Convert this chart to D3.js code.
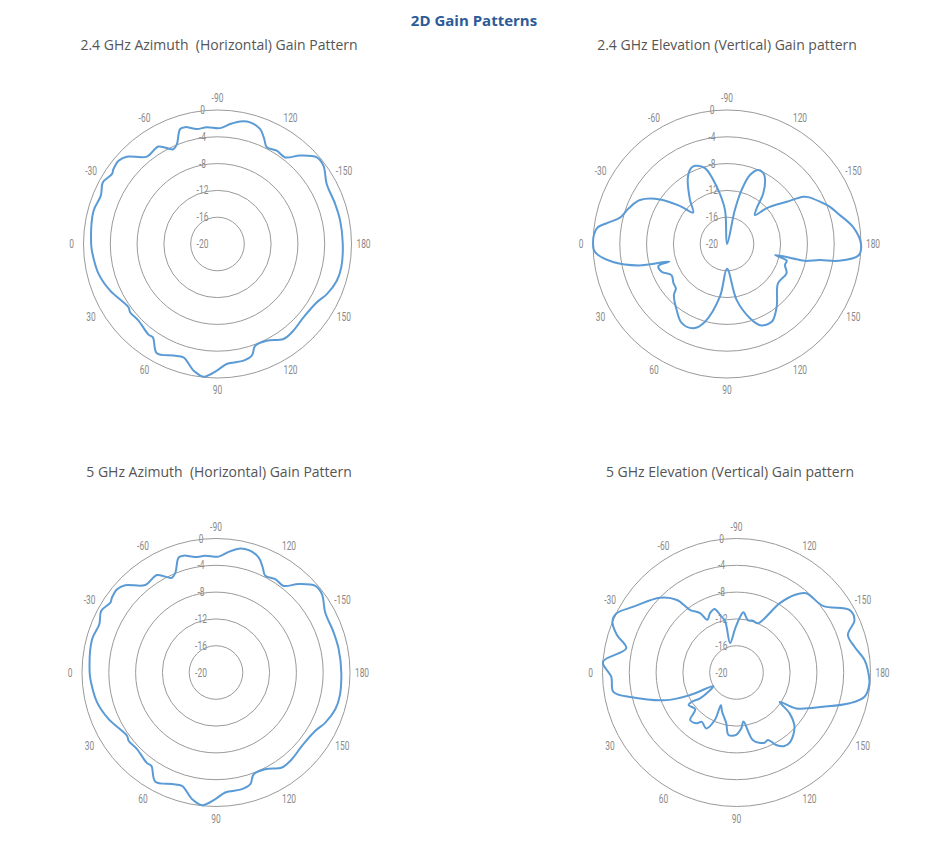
<!DOCTYPE html>
<html lang="en">
<head>
<meta charset="UTF-8">
<title>2D Gain Patterns</title>
<script src="https://d3js.org/d3.v7.min.js"></script>
<style>
  body { margin: 0; background: #fff; }
  .ring { fill: none; stroke: #9a9a9a; stroke-width: 1; }
  .tick { font-family: "Roboto", "Liberation Sans", sans-serif; font-size: 12px; fill: #8a8a8a; }
  .sub { font-family: "Open Sans", "Lato", sans-serif; font-size: 14px; fill: #555; white-space: pre; }
  .main { font-family: "Open Sans", "Lato", sans-serif; font-size: 15px; font-weight: bold; fill: #2d5b98; }
  .pattern { fill: none; stroke: #5b9bd5; stroke-width: 2; }
</style>
</head>
<body>
<div id="chart"></div>
<script>
// gain in dBi, angle in degrees
const radialTicks = [0, -4, -8, -12, -16, -20];
const angleTicks = [-90, -120, -150, 180, 150, 120, 90, 60, 30, 0, -30, -60];
const angleLabels = ["-90", "120", "-150", "180", "150", "120", "90", "60", "30", "0", "-30", "-60"];

// 2.4 GHz azimuth
const az24Angle = [0, -15, -22.5, -28.3, -33.5, -35.8, -40.1, -43.9, -51, -58.8, -65, -67.9, -72, -74.5, -79.8, -84.8, -91.3, -96, -100.5, -105, -110.4, -114, -117, -122.4, -128, -133, -138.9, -143.5, -151.2, -161, -169.2, 180, 169.3, 162.9, 155.4, 149.6, 139.5, 131, 124.8, 117, 110.3, 107.1, 102.6, 94.4, 89.7, 84, 79.3, 73.3, 68.5, 61, 55.3, 52.7, 44.1, 38, 35.4, 23.5, 14.1, 4.6];
const az24Gain = [-1.14, -0.85, -1.15, -0.57, -1.1, -0.86, -0.7, -1.2, -3.23, -3.0, -4.4, -3.9, -1.95, -1.9, -2.56, -2.5, -2.7, -2.0, -1.4, -1.2, -1.7, -2.85, -3.8, -3.5, -3.6, -1.94, -0.32, -0.33, -1.4, -1.45, -1.36, -1.3, -1.2, -1.37, -2.05, -2.8, -3.13, -2.8, -2.74, -3.8, -3.8, -2.56, -2.16, -2.04, -1.1, -0.09, -0.76, -2.34, -2.1, -1.34, -3.05, -3.0, -3.58, -3.45, -3.7, -2.53, -1.7, -1.29];

// 2.4 GHz elevation
const el24Angle = [0, -7, -10, -14, -20, -26.8, -33.7, -39, -42.9, -50, -59.1, -64.4, -67.8, -73.8, -79.8, -86.6, -90, -103, -105.2, -108.4, -112.9, -117, -120, -125.6, -129.8, -134, -138, -144.7, -148.2, -150, -155.5, -160, -164.8, -172.4, 180, 175, 171.4, 170.2, 167.8, 167.6, 167.1, 164.4, 160.1, 153.9, 142.5, 128.4, 119.9, 112.2, 107.2, 99.8, 90, 82.4, 74.2, 68.2, 60.3, 52.7, 43.9, 41, 36.2, 29.3, 23, 17.8, 17.0, 13.6, 9.2, 3.6];
const el24Gain = [0, -0.45, -1.9, -3.6, -4.4, -5.45, -8.0, -11.0, -13.1, -11.4, -8.6, -7.5, -7.4, -8.2, -11.3, -14.9, -20, -14.8, -11.6, -9.15, -8.0, -8.1, -8.67, -10.7, -13.1, -14.0, -12.0, -9.1, -6.6, -6.0, -4.75, -3.7, -2.8, -1.0, 0, -0.3, -3.2, -5.9, -8.1, -9.35, -12.65, -10.75, -10.8, -10.1, -10.4, -8.06, -6.6, -6.9, -8.4, -11.5, -16.3, -12.1, -7.95, -6.45, -6.4, -7.6, -9.0, -9.9, -10.1, -10.5, -9.4, -9.24, -11.0, -6.4, -2.9, -0.3];

// 5 GHz azimuth
const az5Angle = [0, -15, -22.5, -28.3, -33.5, -35.8, -40.1, -43.9, -51, -58.8, -65, -67.9, -72, -74.5, -79.8, -84.8, -91.3, -96, -100.5, -105, -110.4, -114, -117, -122.4, -128, -133, -138.9, -143.5, -151.2, -161, -169.2, 180, 169.3, 162.9, 155.4, 149.6, 139.5, 131, 124.8, 117, 110.3, 107.1, 102.6, 94.4, 89.7, 84, 79.3, 73.3, 68.5, 61, 55.3, 52.7, 44.1, 38, 35.4, 23.5, 14.1, 4.6];
const az5Gain = [-1.14, -0.85, -1.15, -0.55, -1.1, -0.86, -0.7, -1.2, -3.2, -3.0, -4.4, -3.9, -1.95, -1.9, -2.5, -2.5, -2.7, -1.9, -1.2, -1.1, -1.7, -2.85, -3.8, -3.5, -3.6, -1.94, -0.32, -0.33, -1.4, -1.45, -1.36, -1.3, -1.2, -1.37, -2.05, -2.8, -3.13, -2.8, -2.74, -3.8, -3.8, -2.56, -2.16, -2.04, -1.1, -0.09, -0.76, -2.34, -2.1, -1.34, -3.05, -3.0, -3.58, -3.45, -3.7, -2.53, -1.7, -1.29];

// 5 GHz elevation
const el5Angle = [-4.6, -12.4, -17.4, -22.2, -26, -32.6, -44.4, -50.6, -53.5, -58.5, -61.1, -66, -70.9, -74.2, -77.5, -77.8, -88.3, -93.8, -96.6, -102.2, -107.7, -113.5, -121.9, -126.8, -131.3, -142.4, -151, -156, -161.4, -167.7, -174.4, -178.9, 175.4, 169.3, 164.8, 158.4, 149, 145.8, 142.4, 136.9, 127.8, 123.1, 118.7, 115, 111.7, 103.7, 98.1, 94.8, 89.7, 82.7, 78.5, 69.6, 64.4, 65.5, 61.5, 54.9, 52.1, 45.7, 41.7, 34.1, 33.2, 35.4, 30.4, 25.9, 21.6, 13.3, 8.9, 2];
const el5Gain = [0, -3.15, -1.3, 0, 0, -1.76, -4.06, -6.0, -8.4, -9.6, -11.0, -10.3, -9.97, -11.1, -12.2, -15.5, -13.4, -11.65, -10.95, -12.0, -11.9, -12.0, -7.84, -5.55, -4.25, -3.7, -0.73, -0.72, -2.46, -1.97, -0.8, -0.4, -0.1, -0.55, -2.5, -6.1, -9.6, -12.2, -10.0, -8.15, -6.9, -6.9, -7.66, -8.9, -8.7, -9.6, -12.6, -11.6, -10.7, -10.6, -12.3, -13.8, -14.6, -12.3, -10.5, -11.0, -10.4, -10.1, -11.75, -11.35, -12.0, -13.4, -16.0, -12.3, -8.8, -3.96, -1.4, -1.3];

const width = 937, height = 843;
const outerR = 134;

const svg = d3.select('#chart').append('svg')
    .attr('width', width)
    .attr('height', height);

svg.append('text')
    .attr('class', 'main')
    .attr('x', 474)
    .attr('y', 26)
    .attr('text-anchor', 'middle')
    .text('2D Gain Patterns');

// 0 deg on the left, 90 at the bottom, 180 on the right
const a = d3.scaleLinear().domain([-180, 180]).range([Math.PI / 2, -3 * Math.PI / 2]);
const r = d3.scaleLinear().domain([-20, 0]).range([0, outerR]).clamp(true);

// narrow tick labels (no condensed font installed, so squeeze them)
const squeeze = 0.7;

function drawPolar(cx, cy, title, titleX, titleY, angles, gains) {
    svg.append('text')
        .attr('class', 'sub')
        .attr('x', titleX)
        .attr('y', titleY)
        .attr('text-anchor', 'middle')
        .text(title);

    const g = svg.append('g').attr('transform', `translate(${cx},${cy})`);

    g.selectAll('.ring')
        .data(radialTicks.filter(d => d > -20))
      .enter().append('circle')
        .attr('class', 'ring')
        .attr('r', d => r(d));

    g.selectAll('.rlabel')
        .data(radialTicks)
      .enter().append('text')
        .attr('class', 'tick')
        .attr('transform', d => `translate(-15,${-r(d)}) scale(${squeeze},1)`)
        .attr('text-anchor', 'middle')
        .attr('dominant-baseline', 'central')
        .text(d => d);

    g.selectAll('.alabel')
        .data(angleTicks)
      .enter().append('text')
        .attr('class', 'tick')
        .attr('transform', d => {
            const x = (outerR + 12) * Math.sin(a(d));
            const y = -(outerR + 12) * Math.cos(a(d));
            return `translate(${x},${y}) scale(${squeeze},1)`;
        })
        .attr('text-anchor', 'middle')
        .attr('dominant-baseline', 'central')
        .text((d, i) => angleLabels[i]);

    const pts = angles.map((d, i) => ({ angle: d, gain: gains[i] }));
    const line = d3.lineRadial()
        .angle(d => a(d.angle))
        .radius(d => r(d.gain))
        .curve(d3.curveCatmullRomClosed.alpha(0.5));

    g.append('path')
        .datum(pts)
        .attr('class', 'pattern')
        .attr('d', line);
}

drawPolar(217.5, 244, '2.4 GHz Azimuth  (Horizontal) Gain Pattern', 219, 50, az24Angle, az24Gain);
drawPolar(727, 244, '2.4 GHz Elevation (Vertical) Gain pattern', 727, 50, el24Angle, el24Gain);
drawPolar(216, 672.5, '5 GHz Azimuth  (Horizontal) Gain Pattern', 219, 477, az5Angle, az5Gain);
drawPolar(736.5, 672.5, '5 GHz Elevation (Vertical) Gain pattern', 730, 477, el5Angle, el5Gain);
</script>
</body>
</html>
